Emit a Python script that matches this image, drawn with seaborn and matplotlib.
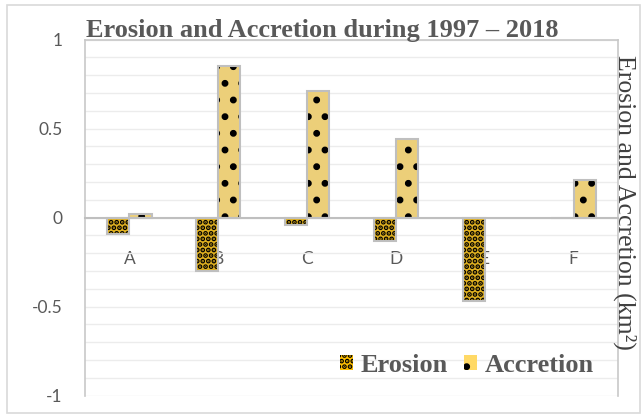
import pandas as pd
import matplotlib.pyplot as plt
import matplotlib.patches as mpatches
import seaborn as sns

sites = ["A", "B", "C", "D", "E", "F"]
erosion = [-0.095, -0.30, -0.04, -0.13, -0.47, -0.005]
accretion = [0.02, 0.85, 0.71, 0.44, 0.0, 0.21]

df = pd.DataFrame({
    "site": sites * 2,
    "type": ["Erosion"] * len(sites) + ["Accretion"] * len(sites),
    "value": erosion + accretion,
})

sns.set_style("white")
plt.rcParams["hatch.linewidth"] = 2.5
plt.rcParams["font.serif"] = ["Liberation Serif", "DejaVu Serif"]

fig = plt.figure(figsize=(6.43, 4.18), dpi=100)
ax = fig.add_axes([0.1322, 0.0538, 0.829, 0.8517])

colors = {"Erosion": "#FFC000", "Accretion": "#FFD966"}
hatches = {"Erosion": "...", "Accretion": "."}

sns.barplot(data=df, x="site", y="value", hue="type", palette=colors,
            width=0.5, errorbar=None, ax=ax, legend=False, zorder=3)

# hatch in black, then a gray outline on top
n = len(sites)
for i, bar in enumerate(ax.patches[:2 * n]):
    kind = "Erosion" if i < n else "Accretion"
    if bar.get_height() == 0:
        continue
    bar.set_hatch(hatches[kind])
    bar.set_edgecolor("black")
    bar.set_linewidth(0)
    outline = mpatches.Rectangle(bar.get_xy(), bar.get_width(), bar.get_height(),
                                 fill=False, edgecolor="#bfbfbf", linewidth=1.5, zorder=4)
    ax.add_patch(outline)

ax.set_ylim(-1, 1)
ax.set_xlim(-0.5, n - 0.5)
ax.set_yticks([-1, -0.5, 0, 0.5, 1])
ax.set_yticklabels(["-1", "-0.5", "0", "0.5", "1"])
ax.set_yticks([v / 10 for v in range(-10, 11)], minor=True)
ax.grid(axis="y", which="both", color="#ececec", linewidth=1, zorder=0)
ax.set_axisbelow(True)

ax.spines["bottom"].set_position(("data", 0))
ax.spines["bottom"].set_color("#bfbfbf")
ax.spines["bottom"].set_linewidth(1.5)
ax.spines["bottom"].set_zorder(5)
for s in ["left", "right", "top"]:
    ax.spines[s].set_color("#c8c8c8")
    ax.spines[s].set_linewidth(1.2)

ax.set_xticks(range(n))
ax.set_xticklabels(sites)
ax.set_xticks([k + 0.5 for k in range(n - 1)], minor=True)
ax.tick_params(axis="x", which="major", length=0, pad=24, labelsize=12.5, labelcolor="#595959")
ax.tick_params(axis="x", which="minor", length=4, direction="out", color="#bfbfbf", width=1.2)
ax.tick_params(axis="y", which="both", length=0, labelsize=12.5, labelcolor="#595959", pad=16)
for lab in ax.get_xticklabels() + ax.get_yticklabels():
    lab.set_family("Lato")
ax.set_xlabel("")
ax.set_ylabel("")

fig.text(0.5016, 0.928, "Erosion and Accretion during 1997 \u2013 2018", ha="center", va="center",
         fontsize=19, fontweight="bold", color="#595959", family="serif")
fig.text(0.972, 0.516, "Erosion and Accretion (km\u00b2)", rotation=270, ha="center", va="center",
         fontsize=18.5, color="#404040", family="serif")

handles = [mpatches.Patch(facecolor=colors[k], hatch=hatches[k], edgecolor="black",
                          linewidth=0, label=k) for k in ["Erosion", "Accretion"]]
leg = ax.legend(handles=handles, loc="lower right", bbox_to_anchor=(0.99, 0.0), frameon=False,
                prop={"family": "serif", "weight": "bold", "size": 19},
                handlelength=0.5, handleheight=0.5, handletextpad=0.3,
                columnspacing=0.6, ncol=2, borderaxespad=0.3)
for t in leg.get_texts():
    t.set_color("#595959")

fig.add_artist(mpatches.Rectangle((0.011, 0.012), 0.985, 0.976, transform=fig.transFigure,
                                  fill=False, edgecolor="#d9d9d9", linewidth=1.2))

fig.savefig("out.png", dpi=100)
